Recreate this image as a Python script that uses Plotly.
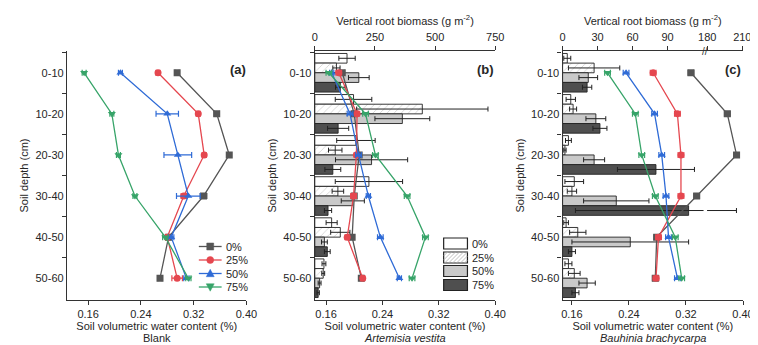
import plotly.graph_objects as go

# ---------------- data ----------------
depths = ["0-10", "10-20", "20-30", "30-40", "40-50", "50-60"]
treatments = ["0%", "25%", "50%", "75%"]
swc_ticks = [0.16, 0.24, 0.32, 0.40]
biomass_ticks_b = [0, 250, 500, 750]
biomass_ticks_c = [0, 30, 60, 90, 180, 210]

# (a) Blank: soil volumetric water content
blank_swc_0 = [0.295, 0.355, 0.374, 0.335, 0.282, 0.269]
blank_swc_25 = [0.266, 0.327, 0.336, 0.305, 0.280, 0.295]
blank_swc_50 = [0.209, 0.280, 0.296, 0.312, 0.286, 0.309]
blank_swc_75 = [0.154, 0.196, 0.206, 0.231, 0.277, 0.312]
blank_err_0 = [0.003, 0.004, 0.003, 0.005, 0.003, 0.003]
blank_err_25 = [0.003, 0.003, 0.003, 0.004, 0.003, 0.008]
blank_err_50 = [0.003, 0.017, 0.021, 0.018, 0.004, 0.004]
blank_err_75 = [0.003, 0.003, 0.003, 0.003, 0.004, 0.004]

# (b) Artemisia vestita: soil volumetric water content
art_swc_0 = [0.183, 0.200, 0.207, 0.200, 0.197, 0.210]
art_swc_25 = [0.178, 0.204, 0.203, 0.199, 0.190, 0.212]
art_swc_50 = [0.168, 0.194, 0.206, 0.220, 0.237, 0.264]
art_swc_75 = [0.164, 0.216, 0.230, 0.275, 0.301, 0.282]
art_err_0 = [0.003, 0.003, 0.003, 0.003, 0.003, 0.003]
art_err_25 = [0.004, 0.003, 0.003, 0.004, 0.003, 0.003]
art_err_50 = [0.003, 0.004, 0.004, 0.003, 0.004, 0.003]
art_err_75 = [0.004, 0.004, 0.004, 0.004, 0.004, 0.004]

# (b) Artemisia vestita: vertical root biomass (g m-2)
art_bio_0 = [134, 161, 171, 225, 70, 38]
art_bio_25 = [90, 447, 85, 96, 106, 35]
art_bio_50 = [183, 364, 236, 158, 40, 20]
art_bio_75 = [106, 97, 75, 55, 52, 14]
art_bio_err_0 = [34, 76, 80, 140, 23, 8]
art_bio_err_25 = [15, 273, 28, 24, 40, 6]
art_bio_err_50 = [43, 114, 150, 48, 12, 6]
art_bio_err_75 = [20, 44, 33, 15, 12, 5]

# (c) Bauhinia brachycarpa: soil volumetric water content
bau_swc_0 = [0.327, 0.378, 0.391, 0.335, 0.279, 0.277]
bau_swc_25 = [0.274, 0.308, 0.313, 0.313, 0.2815, 0.278]
bau_swc_50 = [0.236, 0.276, 0.286, 0.292, 0.2955, 0.308]
bau_swc_75 = [0.210, 0.249, 0.258, 0.277, 0.305, 0.314]
bau_err_0 = [0.004, 0.004, 0.004, 0.004, 0.004, 0.004]
bau_err_25 = [0.004, 0.004, 0.004, 0.004, 0.004, 0.004]
bau_err_50 = [0.004, 0.004, 0.004, 0.004, 0.004, 0.004]
bau_err_75 = [0.004, 0.004, 0.004, 0.004, 0.004, 0.004]

# (c) Bauhinia brachycarpa: vertical root biomass (g m-2)
bau_bio_0 = [4, 7, 5, 10, 3, 5]
bau_bio_25 = [27, 9, 2, 8, 13, 10]
bau_bio_50 = [22, 28.5, 27, 46, 58, 21]
bau_bio_75 = [21, 32, 80, 108, 8, 11]
bau_bio_err_0 = [3, 4, 2.5, 8, 2, 3]
bau_bio_err_25 = [22, 3, 1, 4, 7, 5]
bau_bio_err_50 = [8, 8.5, 9, 28, 50, 7]
bau_bio_err_75 = [4, 6, 33, 97, 3, 3]

# ---------------- style ----------------
FONT = "Liberation Sans, Arial, sans-serif"
TXT = "#262626"
AX = "#333333"
line_colors = ["#555555", "#e5474f", "#2f6bd6", "#37a469"]
line_symbols = ["square", "circle", "triangle-up", "triangle-down"]
bar_fill = ["#ffffff", "#ffffff", "#c9c9c9", "#4f4f4f"]
bar_pattern = ["", "/", "", ""]
BAR_GAP = 0.06

W, H = 758, 345
ML, MR, MT, MB = 59, 17, 43, 53
PW, PH = W - ML - MR, H - MT - MB


def px_x(px):
    return (px - ML) / PW


def px_y(py):
    return 1 - (py - MT) / PH


# broken axis scale for panel (c) top axis (0-120 linear, 180-210 shifted)
BREAK_LO, BREAK_HI, BREAK_POS = 120, 180, 124


def brk(v):
    if v <= BREAK_LO:
        return v
    if v >= BREAK_HI:
        return BREAK_POS + (v - BREAK_HI)
    return BREAK_LO + (v - BREAK_LO) * (BREAK_POS - BREAK_LO) / (BREAK_HI - BREAK_LO)


fig = go.Figure()

# bars (panel b)
art_bios = [art_bio_0, art_bio_25, art_bio_50, art_bio_75]
art_bio_errs = [art_bio_err_0, art_bio_err_25, art_bio_err_50, art_bio_err_75]
for i, t in enumerate(treatments):
    fig.add_trace(go.Bar(
        x=art_bios[i], y=depths, orientation="h", xaxis="x2", yaxis="y2", name=t, showlegend=False,
        marker=dict(color=bar_fill[i], line=dict(color="#222", width=0.9),
                    pattern=dict(shape=bar_pattern[i], fgcolor="#9a9a9a", bgcolor=bar_fill[i],
                                 size=5, solidity=0.15)),
        error_x=dict(type="data", array=art_bio_errs[i], color="#222", thickness=1, width=2.5),
    ))

# bars (panel c, broken axis)
bau_bios = [bau_bio_0, bau_bio_25, bau_bio_50, bau_bio_75]
bau_bio_errs = [bau_bio_err_0, bau_bio_err_25, bau_bio_err_50, bau_bio_err_75]
for i, t in enumerate(treatments):
    vals, errs = bau_bios[i], bau_bio_errs[i]
    xs = [brk(v) for v in vals]
    plus = [brk(v + e) - brk(v) for v, e in zip(vals, errs)]
    minus = [brk(v) - brk(max(v - e, 0)) for v, e in zip(vals, errs)]
    fig.add_trace(go.Bar(
        x=xs, y=depths, orientation="h", xaxis="x4", yaxis="y3", name=t, showlegend=False,
        customdata=vals, hovertemplate="%{customdata}<extra></extra>",
        marker=dict(color=bar_fill[i], line=dict(color="#222", width=0.9),
                    pattern=dict(shape=bar_pattern[i], fgcolor="#9a9a9a", bgcolor=bar_fill[i],
                                 size=5, solidity=0.15)),
        error_x=dict(type="data", symmetric=False, array=plus, arrayminus=minus,
                     color="#222", thickness=1, width=2.5),
    ))

# water content lines
swc_sets = [
    ([blank_swc_0, blank_swc_25, blank_swc_50, blank_swc_75],
     [blank_err_0, blank_err_25, blank_err_50, blank_err_75], "x", "y"),
    ([art_swc_0, art_swc_25, art_swc_50, art_swc_75],
     [art_err_0, art_err_25, art_err_50, art_err_75], "x3", "y2"),
    ([bau_swc_0, bau_swc_25, bau_swc_50, bau_swc_75],
     [bau_err_0, bau_err_25, bau_err_50, bau_err_75], "x5", "y3"),
]
for sets, errs, xa, ya in swc_sets:
    for i, t in enumerate(treatments):
        fig.add_trace(go.Scatter(
            x=sets[i], y=depths, xaxis=xa, yaxis=ya, mode="lines+markers", name=t, showlegend=False,
            line=dict(color=line_colors[i], width=1.3),
            marker=dict(symbol=line_symbols[i], size=7, color=line_colors[i]),
            error_x=dict(type="data", array=errs[i], color=line_colors[i], thickness=1.2, width=3),
        ))

ax_common = dict(showline=True, linecolor=AX, linewidth=1.3, ticks="outside", ticklen=4,
                 tickwidth=1.2, tickcolor=AX, showgrid=False, zeroline=False,
                 tickfont=dict(size=11, color=TXT, family=FONT))

dom_a = [px_x(59), px_x(240)]
dom_b = [px_x(309), px_x(491)]
dom_c = [px_x(559), px_x(741)]

swc_title = dict(text="Soil volumetric water content (%)", font=dict(size=11, color=TXT), standoff=2)
bio_title = dict(text="Vertical root biomass (g m<sup>-2</sup>)", font=dict(size=11, color=TXT), standoff=3)
depth_title = dict(text="Soil depth (cm)", font=dict(size=11, color=TXT), standoff=4)

yax = dict(ax_common, type="category", categoryorder="array", categoryarray=depths,
           range=[5.53, -0.53], tickson="boundaries", domain=[0, 1], title=depth_title)

fig.update_layout(
    width=W, height=H,
    margin=dict(l=ML, r=MR, t=MT, b=MB),
    paper_bgcolor="white", plot_bgcolor="white",
    font=dict(family=FONT, color=TXT, size=11),
    showlegend=False,
    barmode="group", bargap=BAR_GAP, bargroupgap=0.0,
    xaxis=dict(ax_common, domain=dom_a, range=[0.128, 0.40], tickvals=swc_ticks,
               tickformat=".2f", anchor="y", title=swc_title),
    yaxis=dict(yax, anchor="x"),
    xaxis2=dict(ax_common, domain=dom_b, range=[0, 750], tickvals=biomass_ticks_b,
                side="top", anchor="y2", title=bio_title),
    xaxis3=dict(ax_common, domain=dom_b, range=[0.144, 0.40], tickvals=swc_ticks,
                tickformat=".2f", overlaying="x2", side="bottom", anchor="y2", title=swc_title),
    yaxis2=dict(yax, anchor="x2"),
    xaxis4=dict(ax_common, domain=dom_c, range=[0, 154.6], tickvals=[brk(v) for v in biomass_ticks_c],
                ticktext=[str(v) for v in biomass_ticks_c], side="top", anchor="y3", title=bio_title),
    xaxis5=dict(ax_common, domain=dom_c, range=[0.147, 0.40], tickvals=swc_ticks,
                tickformat=".2f", overlaying="x4", side="bottom", anchor="y3", title=swc_title),
    yaxis3=dict(yax, anchor="x4"),
)

annots = [
    dict(text="<b>(a)</b>", x=232, y=61, size=13, anchor="center"),
    dict(text="<b>(b)</b>", x=481, y=61, size=13, anchor="center"),
    dict(text="<b>(c)</b>", x=731, y=61, size=13, anchor="center"),
    dict(text="Blank", x=149.5, y=330, size=11, anchor="center"),
    dict(text="<i>Artemisia vestita</i>", x=400, y=330, size=11, anchor="center"),
    dict(text="<i>Bauhinia brachycarpa</i>", x=650, y=330, size=11, anchor="center"),
]

shapes = []

# ---- legend for water-content lines (panel a) ----
leg_rows_a = [238.5, 252, 265.5, 279]
for i, t in enumerate(treatments):
    cy = leg_rows_a[i]
    x0, x1, cx = 192, 215, 203.5
    shapes.append(dict(type="line", xref="paper", yref="paper", x0=px_x(x0), x1=px_x(x1),
                       y0=px_y(cy), y1=px_y(cy), line=dict(color=line_colors[i], width=1.3)))
    s = 3.5
    mk = dict(xref="paper", yref="paper", fillcolor=line_colors[i], line=dict(color=line_colors[i], width=0.5))
    if line_symbols[i] == "square":
        shapes.append(dict(mk, type="rect", x0=px_x(cx - s), x1=px_x(cx + s), y0=px_y(cy - s), y1=px_y(cy + s)))
    elif line_symbols[i] == "circle":
        shapes.append(dict(mk, type="circle", x0=px_x(cx - s), x1=px_x(cx + s), y0=px_y(cy - s), y1=px_y(cy + s)))
    else:
        sgn = -1 if line_symbols[i] == "triangle-up" else 1
        pts = [(cx - 4, cy - sgn * 3.2), (cx + 4, cy - sgn * 3.2), (cx, cy + sgn * 4.2)]
        path = "M" + " L".join(f"{px_x(a):.5f},{px_y(b):.5f}" for a, b in pts) + " Z"
        shapes.append(dict(mk, type="path", path=path))
    annots.append(dict(text=t, x=217.5, y=cy, size=11, anchor="left"))

# ---- legend for root biomass bars (panel b) ----
leg_rows_b = [235.5, 249.5, 263, 277]
bx0, bx1, bh = 439, 463, 11
for i, t in enumerate(treatments):
    cy = leg_rows_b[i]
    y0, y1 = cy - bh / 2, cy + bh / 2
    shapes.append(dict(type="rect", xref="paper", yref="paper", x0=px_x(bx0), x1=px_x(bx1),
                       y0=px_y(y0), y1=px_y(y1), fillcolor=bar_fill[i],
                       line=dict(color="#222", width=1.2)))
    if bar_pattern[i] == "/":
        segs = []
        step = 4
        k = bx0 - bh
        while k < bx1:
            # line from (k, y1) to (k+bh, y0), clipped to box
            xa, ya_, xb, yb = k, y1, k + bh, y0
            if xa < bx0:
                ya_ = y1 - (bx0 - xa)
                xa = bx0
            if xb > bx1:
                yb = y0 + (xb - bx1)
                xb = bx1
            if xb > xa:
                segs.append(f"M{px_x(xa):.5f},{px_y(ya_):.5f} L{px_x(xb):.5f},{px_y(yb):.5f}")
            k += step
        shapes.append(dict(type="path", xref="paper", yref="paper", path=" ".join(segs),
                           line=dict(color="#b0b0b0", width=0.8)))
    annots.append(dict(text=t, x=466, y=cy, size=11, anchor="left"))

# gap in the error bar at the axis break (panel c, 30-40 cm, 75%)
n_tr = len(treatments)
bar_w = (1 - BAR_GAP) / n_tr
off75 = -(1 - BAR_GAP) / 2 + bar_w * (n_tr - 0.5)
row3040 = depths.index("30-40")
shapes.append(dict(type="rect", xref="x4", yref="y3", x0=BREAK_LO + 0.8, x1=BREAK_POS - 0.2,
                   y0=row3040 + off75 - 0.06, y1=row3040 + off75 + 0.06,
                   fillcolor="white", line=dict(width=0), layer="above"))

for a in annots:
    fig.add_annotation(text=a["text"], x=px_x(a["x"]), y=px_y(a["y"]), xref="paper", yref="paper",
                       showarrow=False, xanchor=a["anchor"], yanchor="middle",
                       font=dict(size=a["size"], color=TXT, family=FONT))

# axis break mark on panel (c) top axis
fig.add_annotation(text="//", x=BREAK_POS - 2, y=1, xref="x4", yref="paper", showarrow=False,
                   xanchor="center", yanchor="middle", font=dict(size=10, color=AX, family=FONT))

fig.update_layout(shapes=shapes)
fig.write_html("out.html")
